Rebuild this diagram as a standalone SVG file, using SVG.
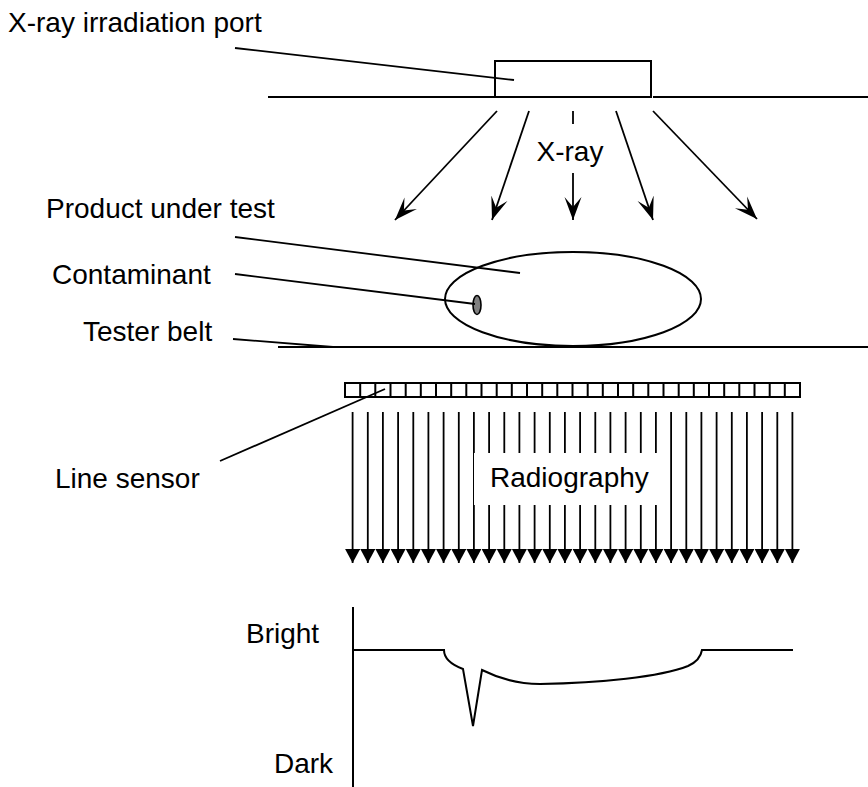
<svg xmlns="http://www.w3.org/2000/svg" width="868" height="787" viewBox="0 0 868 787">
<style>
text{font-family:"Liberation Sans",Arial,sans-serif;font-size:28px;fill:#000}
.ln{stroke:#000;stroke-width:2;fill:none}
.thin{stroke:#000;stroke-width:1.8;fill:none}
</style>
<defs>
<marker id="stealth" markerUnits="userSpaceOnUse" markerWidth="26" markerHeight="20" refX="23" refY="9" orient="auto" viewBox="0 0 26 18">
<path d="M23,9 L0,0.5 L10,9 L0,17.5 Z" fill="#000"/>
</marker>
<marker id="tri" markerUnits="userSpaceOnUse" markerWidth="16" markerHeight="16" refX="14" refY="7.5" orient="auto" viewBox="0 0 16 16">
<path d="M14,7.5 L0,0 L0,15 Z" fill="#000"/>
</marker>
</defs>
<rect width="868" height="787" fill="#fff"/>

<g id="port">
<line class="ln" x1="268" y1="97" x2="495" y2="97"/>
<line class="ln" x1="653" y1="97" x2="868" y2="97"/>
<rect x="495" y="61" width="156" height="36" class="ln"/>
<text x="8" y="32">X-ray irradiation port</text>
</g>

<g id="xray">
<line class="thin" x1="573" y1="111" x2="573" y2="124"/>
<text x="570" y="161" text-anchor="middle">X-ray</text>
</g>

<g id="product">
<ellipse cx="573" cy="299" rx="128" ry="47" class="ln"/>
<text x="46" y="218">Product under test</text>
</g>

<g id="contaminant">
<ellipse cx="477" cy="305" rx="4" ry="9.5" fill="#808080" stroke="#000" stroke-width="1.6"/>
<text x="52" y="284">Contaminant</text>
</g>

<g id="belt">
<line class="ln" x1="278" y1="347" x2="868" y2="347"/>
<text x="83" y="341">Tester belt</text>
</g>

<g id="sensor">
<rect x="345" y="383" width="455" height="14" class="ln"/>
<path class="ln" d="M360.2,383V397M375.3,383V397M390.5,383V397M405.7,383V397M420.8,383V397M436,383V397M451.2,383V397M466.3,383V397M481.5,383V397M496.7,383V397M511.8,383V397M527,383V397M542.2,383V397M557.3,383V397M572.5,383V397M587.7,383V397M602.8,383V397M618,383V397M633.2,383V397M648.3,383V397M663.5,383V397M678.7,383V397M693.8,383V397M709,383V397M724.2,383V397M739.3,383V397M754.5,383V397M769.7,383V397M784.8,383V397"/>
<text x="55" y="488">Line sensor</text>
</g>

<g id="radiography">
<g class="thin" marker-end="url(#tri)">
<line x1="352.6" y1="412" x2="352.6" y2="563"/>
<line x1="367.8" y1="412" x2="367.8" y2="563"/>
<line x1="382.9" y1="412" x2="382.9" y2="563"/>
<line x1="398.1" y1="412" x2="398.1" y2="563"/>
<line x1="413.3" y1="412" x2="413.3" y2="563"/>
<line x1="428.4" y1="412" x2="428.4" y2="563"/>
<line x1="443.6" y1="412" x2="443.6" y2="563"/>
<line x1="458.8" y1="412" x2="458.8" y2="563"/>
<line x1="473.9" y1="412" x2="473.9" y2="563"/>
<line x1="489.1" y1="412" x2="489.1" y2="563"/>
<line x1="504.3" y1="412" x2="504.3" y2="563"/>
<line x1="519.4" y1="412" x2="519.4" y2="563"/>
<line x1="534.6" y1="412" x2="534.6" y2="563"/>
<line x1="549.8" y1="412" x2="549.8" y2="563"/>
<line x1="564.9" y1="412" x2="564.9" y2="563"/>
<line x1="580.1" y1="412" x2="580.1" y2="563"/>
<line x1="595.3" y1="412" x2="595.3" y2="563"/>
<line x1="610.4" y1="412" x2="610.4" y2="563"/>
<line x1="625.6" y1="412" x2="625.6" y2="563"/>
<line x1="640.8" y1="412" x2="640.8" y2="563"/>
<line x1="655.9" y1="412" x2="655.9" y2="563"/>
<line x1="671.1" y1="412" x2="671.1" y2="563"/>
<line x1="686.3" y1="412" x2="686.3" y2="563"/>
<line x1="701.4" y1="412" x2="701.4" y2="563"/>
<line x1="716.6" y1="412" x2="716.6" y2="563"/>
<line x1="731.8" y1="412" x2="731.8" y2="563"/>
<line x1="746.9" y1="412" x2="746.9" y2="563"/>
<line x1="762.1" y1="412" x2="762.1" y2="563"/>
<line x1="777.3" y1="412" x2="777.3" y2="563"/>
<line x1="792.4" y1="412" x2="792.4" y2="563"/>
</g>
<rect x="474" y="453" width="186" height="52" fill="#fff"/>
<text x="490" y="487">Radiography</text>
</g>

<g id="graph">
<line class="ln" x1="353" y1="607" x2="353" y2="787"/>
<path class="ln" d="M353,650 H444 C444,660 455,666 463,669 L473,726 L482,670 C500,679 520,684 540,684 C600,683 660,677 688,666 C697,662 701,656 702,650 H793"/>
<text x="246" y="643">Bright</text>
<text x="274" y="773">Dark</text>
</g>

<g id="connectors">
<g class="thin" marker-end="url(#stealth)">
<line x1="497" y1="111" x2="395" y2="220"/>
<line x1="529" y1="111" x2="492" y2="220"/>
<line x1="573" y1="173" x2="573" y2="220"/>
<line x1="616" y1="111" x2="653" y2="220"/>
<line x1="653" y1="111" x2="757" y2="219"/>
</g>
<line class="thin" x1="235" y1="48" x2="514" y2="80"/>
<line class="thin" x1="235" y1="237" x2="520" y2="273"/>
<line class="thin" x1="235" y1="274" x2="475" y2="304"/>
<line class="thin" x1="233" y1="339" x2="333" y2="347"/>
<line class="thin" x1="220" y1="461" x2="385" y2="389"/>
</g>
</svg>
